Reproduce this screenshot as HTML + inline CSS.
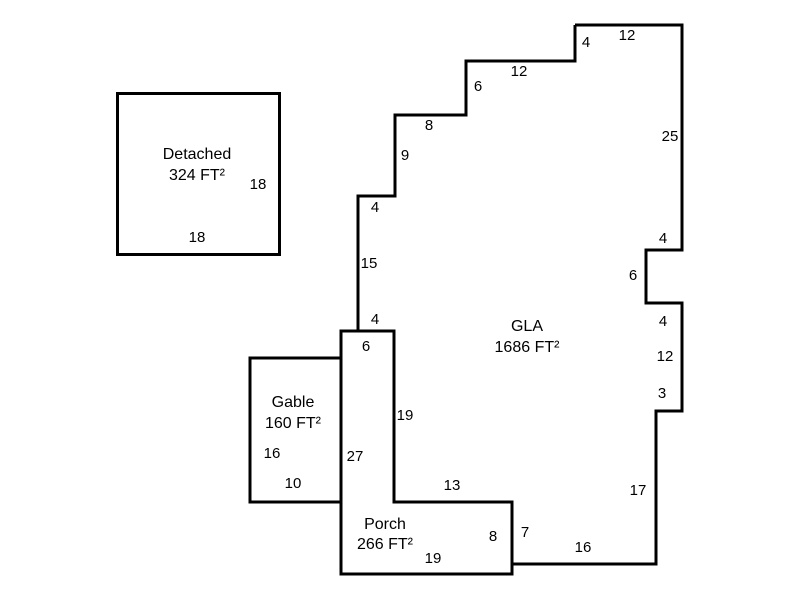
<!DOCTYPE html>
<html><head><style>
html,body{margin:0;padding:0;background:#fff;width:800px;height:600px;overflow:hidden}
svg text{font-family:"Liberation Sans",sans-serif;font-size:15px;fill:#000}
svg text.a{font-size:16px}
</style></head><body>
<svg width="800" height="600" viewBox="0 0 800 600" xmlns="http://www.w3.org/2000/svg">
<g fill="none" stroke="#000" stroke-width="3" stroke-linejoin="miter">
<rect x="117.5" y="93.5" width="162" height="161"/>
<polyline points="575,25 682,25 682,250 646,250 646,303 682,303 682,411 656,411 656,564 512,564 512,502"/>
<polyline points="358,331 358,196 395,196 395,115 466,115 466,61 575,61 575,25"/>
<polygon points="341,331 394,331 394,502 512,502 512,574 341,574"/>
<polyline points="341,358 250,358 250,502 341,502"/>
</g>
<g text-anchor="middle">
<text class="a" x="197" y="159">Detached</text>
<text class="a" x="197" y="180">324 FT²</text>
<text x="258" y="189">18</text>
<text x="197" y="242">18</text>
<text class="a" x="527" y="331">GLA</text>
<text class="a" x="527" y="352">1686 FT²</text>
<text class="a" x="293" y="407">Gable</text>
<text class="a" x="293" y="428">160 FT²</text>
<text x="272" y="458">16</text>
<text x="293" y="488">10</text>
<text class="a" x="385" y="529">Porch</text>
<text class="a" x="385" y="549">266 FT²</text>
<text x="433" y="563">19</text>
<text x="493" y="541">8</text>
<text x="355" y="461">27</text>
<text x="366" y="351">6</text>
<text x="375" y="324">4</text>
<text x="369" y="268">15</text>
<text x="375" y="212">4</text>
<text x="405" y="160">9</text>
<text x="429" y="130">8</text>
<text x="478" y="91">6</text>
<text x="519" y="76">12</text>
<text x="586" y="47">4</text>
<text x="627" y="40">12</text>
<text x="670" y="141">25</text>
<text x="663" y="243">4</text>
<text x="633" y="280">6</text>
<text x="663" y="326">4</text>
<text x="665" y="361">12</text>
<text x="662" y="398">3</text>
<text x="638" y="495">17</text>
<text x="583" y="552">16</text>
<text x="525" y="537">7</text>
<text x="452" y="490">13</text>
<text x="405" y="420">19</text>
</g>
</svg>
</body></html>
